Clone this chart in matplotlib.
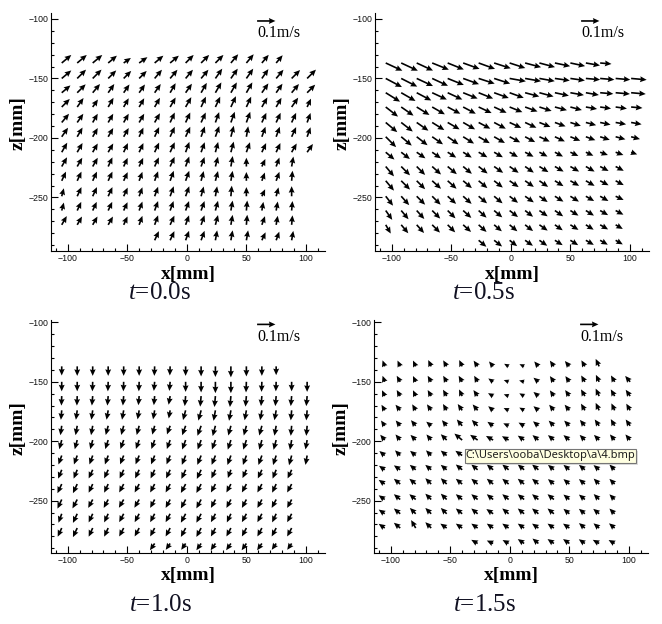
import numpy as np
import matplotlib.pyplot as plt
from matplotlib.patches import Rectangle

plt.rcParams['mathtext.fontset'] = 'custom'
plt.rcParams['mathtext.rm'] = 'Liberation Serif'
plt.rcParams['mathtext.it'] = 'Liberation Serif:italic'

_ = np.nan

# measuring grid [mm]
x_mm = [-105, -92, -79, -66, -53, -40, -27, -14, -1, 12, 24, 37, 50, 63, 75, 88, 101]
z_mm = [-137, -150, -162, -174, -187, -199, -212, -224, -236, -249, -261, -273, -286]

# t = 0.0 s : direction [deg], speed [mm/s]
ang_00 = [
    [40, 40, 40, 40, 35, 35, 40, 40, 45, 45, 45, 50, 50, 50, 50, _, _],
    [40, 45, 45, 45, 45, 45, 50, 50, 50, 50, 55, 55, 55, 55, 50, 45, 45],
    [40, 45, 50, 55, 55, 55, 55, 60, 55, 60, 60, 60, 60, 55, 55, 50, 45],
    [45, 55, 55, 60, 60, 60, 60, 60, 60, 65, 65, 65, 65, 60, 60, 55, 65],
    [50, 55, 60, 60, 60, 60, 60, 65, 65, 65, 70, 70, 70, 65, 65, 65, 70],
    [55, 60, 60, 60, 60, 65, 65, 65, 65, 70, 70, 75, 80, 70, 70, 65, 70],
    [60, 60, 60, 60, 65, 65, 65, 65, 70, 70, 75, 75, 70, 65, 65, 60, 55],
    [60, 60, 60, 65, 65, 65, 65, 65, 70, 70, 75, 80, 90, 65, 70, 80, _],
    [65, 65, 65, 65, 65, 70, 70, 70, 70, 75, 75, 80, 90, 70, 70, 85, _],
    [75, 65, 65, 65, 65, 70, 70, 70, 70, 75, 80, 85, 90, 65, 75, 90, _],
    [75, 65, 65, 65, 65, 70, 70, 70, 70, 70, 75, 80, 85, 80, 80, 85, _],
    [60, 60, 60, 60, 65, 70, 70, 65, 70, 70, 75, 80, 85, 70, 80, 85, _],
    [_, _, _, _, _, _, 65, 65, 70, 70, 80, 80, 80, 65, 70, 80, _],
]
spd_00 = [
    [68, 68, 68, 62, 48, 55, 62, 62, 62, 62, 62, 62, 62, 58, 55, _, _],
    [68, 68, 68, 62, 58, 58, 62, 62, 62, 62, 65, 65, 65, 62, 62, 65, 68],
    [62, 65, 62, 58, 55, 55, 58, 60, 60, 62, 65, 65, 65, 62, 60, 62, 62],
    [62, 60, 50, 58, 55, 55, 58, 60, 62, 62, 62, 65, 62, 60, 58, 62, 50],
    [62, 58, 55, 55, 55, 55, 58, 60, 60, 60, 60, 62, 62, 58, 58, 58, 55],
    [60, 58, 55, 55, 55, 55, 58, 60, 60, 60, 62, 62, 58, 58, 58, 58, 55],
    [60, 58, 55, 55, 55, 55, 58, 60, 60, 58, 58, 60, 58, 55, 55, 55, 55],
    [58, 55, 55, 55, 52, 52, 55, 58, 58, 55, 55, 58, 48, 45, 52, 55, _],
    [55, 55, 55, 55, 52, 52, 55, 58, 58, 55, 55, 55, 48, 48, 52, 55, _],
    [45, 55, 55, 55, 52, 52, 55, 58, 58, 55, 55, 58, 50, 42, 50, 55, _],
    [45, 52, 52, 52, 50, 52, 55, 55, 55, 55, 55, 55, 55, 48, 50, 52, _],
    [55, 52, 52, 52, 50, 52, 55, 55, 55, 55, 55, 55, 55, 50, 50, 52, _],
    [_, _, _, _, _, _, 55, 55, 55, 55, 55, 55, 55, 48, 50, 52, _],
]

# t = 0.5 s
ang_05 = [
    [-25, -25, -25, -22, -22, -20, -20, -18, -18, -15, -15, -12, -12, -10, -5, _, _],
    [-28, -27, -25, -25, -22, -20, -18, -18, -10, -10, -10, -8, -8, -5, -5, -5, -5],
    [-32, -30, -28, -25, -25, -22, -22, -20, -20, -15, -15, -12, -10, -10, -5, -5, -5],
    [-38, -35, -32, -30, -28, -28, -25, -25, -22, -20, -18, -15, -15, -10, -8, -8, -5],
    [-40, -38, -35, -32, -30, -30, -28, -28, -25, -25, -22, -20, -18, -15, -12, -10, -10],
    [-45, -40, -38, -35, -35, -32, -30, -30, -28, -28, -25, -25, -22, -20, -18, -15, -15],
    [-40, -38, -35, -35, -32, -32, -30, -30, -30, -28, -28, -28, -25, -25, -20, -20, -20],
    [-50, -45, -45, -42, -40, -40, -38, -35, -35, -35, -32, -30, -30, -30, -28, -28, _],
    [-50, -45, -45, -42, -42, -40, -40, -38, -35, -35, -35, -32, -30, -30, -28, -28, _],
    [-52, -48, -45, -45, -42, -42, -40, -40, -38, -35, -35, -32, -32, -30, -30, -25, _],
    [-55, -50, -48, -45, -45, -42, -42, -40, -38, -38, -35, -35, -32, -32, -30, -28, _],
    [-60, -50, -48, -45, -45, -42, -42, -40, -40, -38, -35, -35, -32, -32, -30, -30, _],
    [_, _, _, _, _, _, -40, -38, -38, -35, -35, -32, -32, -30, -30, -30, _],
]
spd_05 = [
    [100, 100, 98, 98, 95, 95, 95, 95, 90, 90, 88, 85, 82, 78, 62, _, _],
    [100, 98, 98, 95, 95, 92, 92, 92, 90, 88, 85, 82, 80, 78, 78, 80, 85],
    [92, 90, 90, 88, 88, 85, 85, 85, 82, 80, 80, 78, 75, 72, 72, 78, 80],
    [85, 82, 82, 80, 78, 78, 78, 75, 75, 72, 70, 68, 65, 62, 60, 62, 62],
    [82, 80, 78, 78, 75, 75, 72, 72, 70, 68, 65, 62, 60, 58, 58, 58, 58],
    [80, 75, 75, 72, 72, 70, 70, 68, 65, 62, 62, 60, 58, 55, 55, 55, 50],
    [62, 60, 58, 58, 55, 55, 55, 55, 52, 52, 50, 50, 48, 45, 45, 45, 35],
    [70, 68, 65, 65, 65, 62, 62, 60, 60, 58, 58, 55, 55, 55, 52, 50, _],
    [70, 68, 65, 65, 65, 62, 62, 60, 60, 58, 58, 55, 55, 55, 52, 50, _],
    [65, 65, 65, 65, 62, 62, 60, 60, 58, 58, 55, 55, 55, 52, 52, 48, _],
    [62, 62, 62, 62, 60, 60, 58, 58, 58, 55, 55, 55, 52, 52, 50, 48, _],
    [55, 60, 60, 60, 58, 58, 58, 55, 55, 55, 55, 52, 52, 50, 50, 45, _],
    [_, _, _, _, _, _, 55, 55, 52, 52, 52, 50, 50, 50, 48, 45, _],
]

# t = 1.0 s
ang_10 = [
    [-90, -90, -90, -90, -90, -90, -92, -92, -90, -90, -90, -90, -90, -90, -90, _, _],
    [-90, -90, -92, -92, -92, -92, -95, -95, -90, -90, -90, -90, -92, -92, -92, -90, -90],
    [-92, -92, -95, -95, -95, -95, -95, -100, -95, -95, -95, -95, -95, -95, -95, -95, -95],
    [-95, -98, -98, -100, -100, -100, -100, -100, -105, -105, -100, -100, -100, -100, -100, -95, -95],
    [-98, -100, -100, -105, -105, -105, -105, -110, -110, -110, -105, -105, -105, -105, -100, -95, -95],
    [-105, -105, -105, -108, -110, -110, -110, -110, -110, -110, -110, -108, -108, -105, -105, -100, -100],
    [-110, -110, -110, -110, -112, -112, -112, -112, -112, -112, -112, -110, -110, -110, -108, -105, -100],
    [-112, -112, -115, -115, -115, -115, -115, -115, -115, -115, -115, -110, -115, -115, -112, -115, _],
    [-115, -115, -115, -115, -118, -118, -118, -118, -118, -118, -118, -118, -118, -118, -115, -118, _],
    [-115, -118, -118, -118, -120, -120, -118, -118, -118, -118, -118, -118, -118, -118, -118, -118, _],
    [-110, -115, -115, -115, -118, -118, -118, -118, -118, -118, -118, -115, -118, -118, -115, -118, _],
    [-115, -115, -115, -115, -118, -118, -118, -118, -118, -118, -118, -118, -118, -118, -118, -118, _],
    [_, _, _, _, _, _, -125, -125, -125, -125, -125, -125, -125, -125, -125, -125, _],
]
spd_10 = [
    [50, 52, 52, 52, 52, 52, 52, 50, 52, 55, 58, 60, 55, 52, 48, _, _],
    [52, 52, 52, 52, 52, 52, 50, 50, 55, 58, 62, 62, 58, 55, 52, 52, 55],
    [52, 52, 52, 52, 52, 50, 50, 48, 55, 58, 60, 60, 58, 55, 55, 55, 55],
    [52, 52, 52, 52, 52, 50, 50, 45, 55, 58, 58, 58, 55, 55, 55, 55, 55],
    [52, 52, 52, 52, 52, 52, 50, 50, 55, 58, 58, 55, 55, 55, 55, 55, 55],
    [52, 52, 52, 52, 52, 52, 52, 52, 55, 55, 55, 55, 55, 55, 55, 55, 52],
    [52, 52, 52, 52, 52, 52, 52, 52, 55, 55, 55, 55, 55, 55, 55, 55, 52],
    [52, 52, 52, 52, 52, 52, 52, 52, 55, 55, 52, 48, 50, 52, 52, 52, _],
    [55, 55, 52, 52, 52, 52, 52, 52, 55, 55, 52, 52, 52, 52, 52, 52, _],
    [55, 55, 52, 52, 52, 52, 52, 52, 55, 55, 52, 52, 52, 52, 52, 52, _],
    [52, 55, 52, 52, 52, 52, 52, 52, 55, 55, 52, 52, 52, 52, 52, 52, _],
    [52, 55, 52, 52, 52, 52, 52, 52, 55, 55, 52, 52, 52, 52, 52, 52, _],
    [_, _, _, _, _, _, 45, 42, 42, 45, 45, 45, 45, 45, 42, 42, _],
]

# t = 1.5 s
ang_15 = [
    [110, 115, 115, 115, 120, 115, 125, 130, 150, 155, 130, 125, 130, 120, 115, _, _],
    [110, 120, 115, 120, 120, 120, 120, 145, 160, 165, 140, 125, 125, 120, 115, 120, 130],
    [115, 120, 115, 120, 120, 115, 125, 150, 160, 150, 140, 125, 125, 120, 115, 120, 125],
    [120, 130, 120, 125, 120, 125, 130, 140, 155, 150, 140, 130, 130, 120, 115, 115, 120],
    [125, 130, 130, 140, 130, 130, 135, 145, 155, 150, 140, 135, 135, 130, 125, 120, 125],
    [130, 130, 135, 130, 135, 140, 145, 150, 150, 145, 140, 140, 140, 135, 135, 130, 130],
    [140, 135, 140, 135, 140, 145, 145, 145, 145, 145, 140, 140, 140, 135, 135, 135, 135],
    [145, 145, 140, 140, 140, 140, 140, 140, 140, 140, 140, 140, 140, 140, 140, 135, _],
    [145, 140, 140, 135, 135, 140, 140, 140, 140, 140, 140, 140, 140, 140, 135, 135, _],
    [145, 140, 140, 135, 135, 140, 140, 140, 140, 140, 140, 140, 140, 140, 135, 135, _],
    [145, 140, 135, 135, 135, 140, 140, 145, 140, 140, 140, 140, 140, 140, 140, 135, _],
    [145, 140, 120, 135, 145, 145, 145, 145, 145, 145, 145, 145, 145, 140, 140, 140, _],
    [_, _, _, _, _, _, 150, 155, 150, 145, 140, 145, 145, 145, 150, 150, _],
]
spd_15 = [
    [35, 35, 35, 38, 38, 38, 38, 35, 28, 28, 35, 38, 38, 38, 45, _, _],
    [35, 38, 35, 38, 38, 38, 38, 32, 28, 28, 35, 38, 38, 40, 42, 40, 42],
    [35, 38, 35, 38, 40, 40, 40, 32, 28, 30, 35, 38, 40, 42, 45, 42, 42],
    [35, 40, 38, 40, 40, 42, 42, 35, 30, 30, 35, 40, 40, 42, 45, 42, 42],
    [35, 38, 40, 35, 40, 45, 45, 38, 32, 35, 38, 40, 40, 42, 42, 42, 42],
    [38, 40, 40, 40, 45, 55, 50, 45, 42, 42, 42, 42, 42, 40, 40, 40, 40],
    [38, 40, 40, 40, 42, 45, 45, 45, 45, 45, 42, 42, 42, 40, 40, 40, 40],
    [38, 42, 42, 42, 42, 45, 45, 45, 45, 45, 45, 42, 42, 42, 40, 40, _],
    [40, 45, 45, 45, 45, 45, 45, 45, 45, 45, 45, 42, 42, 42, 42, 40, _],
    [40, 45, 45, 45, 45, 45, 45, 45, 45, 45, 45, 45, 42, 42, 42, 40, _],
    [40, 45, 45, 45, 45, 45, 45, 45, 45, 45, 45, 45, 42, 42, 42, 40, _],
    [40, 45, 50, 45, 42, 42, 42, 42, 42, 42, 42, 42, 42, 42, 40, 40, _],
    [_, _, _, _, _, _, 40, 38, 38, 42, 42, 42, 42, 40, 40, 38, _],
]

times = ["0.0", "0.5", "1.0", "1.5"]
angles = [ang_00, ang_05, ang_10, ang_15]
speeds = [spd_00, spd_05, spd_10, spd_15]

W, H = 662, 624
fig = plt.figure(figsize=(W / 100, H / 100), dpi=100)

# axes boxes in pixels: left, top, right, bottom
boxes = [(51, 13, 325, 251), (375, 13, 649, 251),
         (51, 320, 325, 553), (374, 320, 648, 553)]
ylims = [(-295, -95), (-295, -95), (-294, -98), (-294, -98)]
captions = [(160, 293), (484, 293), (161, 605), (485, 605)]

qkw = dict(angles='xy', scale_units='xy', scale=100 / 15.4, width=0.006,
           headwidth=3.6, headlength=4, headaxislength=3.6, color='black')

X, Z = np.meshgrid(x_mm, z_mm)
for i in range(4):
    l, t, r, b = boxes[i]
    ax = fig.add_axes([l / W, 1 - b / H, (r - l) / W, (b - t) / H])
    a = np.radians(np.array(angles[i], dtype=float))
    s = np.array(speeds[i], dtype=float)
    ok = ~np.isnan(s)
    U = s * np.cos(a)
    V = s * np.sin(a)
    ax.quiver(X[ok], Z[ok], U[ok], V[ok], **qkw)

    # reference vector 0.1 m/s
    ax.quiver([59], [-101.7], [100], [0], **qkw)
    ax.text(59, -112, "0.1m/s", family='Liberation Serif', fontsize=11.5,
            ha='left', va='center')

    ax.set_xlim(-114, 116)
    ax.set_ylim(*ylims[i])
    ax.spines['top'].set_visible(False)
    ax.spines['right'].set_visible(False)
    ax.set_xticks([-100, -50, 0, 50, 100])
    ax.set_yticks([-100, -150, -200, -250])
    ax.set_xticks(np.arange(-110, 111, 10), minor=True)
    ax.set_yticks(np.arange(-290, -99, 10), minor=True)
    ax.tick_params(which='both', direction='in', labelsize=6.3, width=0.8,
                   labelcolor='#111111')
    ax.tick_params(which='major', length=5)
    ax.tick_params(which='minor', length=2.5)
    ax.tick_params(axis='x', pad=2.5)
    ax.tick_params(axis='y', pad=2)
    for lab in ax.get_xticklabels() + ax.get_yticklabels():
        lab.set_family('Liberation Sans')

    ax.set_xlabel("x[mm]", family='Liberation Serif', fontweight='bold', fontsize=14)
    ax.set_ylabel("z[mm]", family='Liberation Serif', fontweight='bold', fontsize=14)
    ax.xaxis.label.set_va('center')
    ax.yaxis.label.set_va('center')
    ax.xaxis.set_label_coords(0.5, -0.097)
    ax.yaxis.set_label_coords(-0.12, 0.537)

    cx, cy = captions[i]
    fig.text(cx / W, 1 - cy / H, "$t$=" + times[i] + "s", family='Liberation Serif',
             fontsize=18, ha='center', va='center', color='#111122')

# file-path tooltip that sits over the last panel
fig.patches.append(Rectangle((467 / W, 1 - 464.5 / H), 171 / W, 14 / H,
                             transform=fig.transFigure, facecolor='#c8c8c8',
                             edgecolor='none', alpha=0.6, zorder=9))
fig.patches.append(Rectangle((465 / W, 1 - 462.5 / H), 171 / W, 14 / H,
                             transform=fig.transFigure, facecolor='#ffffe1',
                             edgecolor='#767676', linewidth=0.8, zorder=10))
fig.text(550.5 / W, 1 - 455.5 / H, "C:\\Users\\ooba\\Desktop\\a\\4.bmp",
         family='Noto Sans', fontsize=8, ha='center', va='center',
         color='#1e1e1e', zorder=11)

fig.savefig("out.png", dpi=100)
